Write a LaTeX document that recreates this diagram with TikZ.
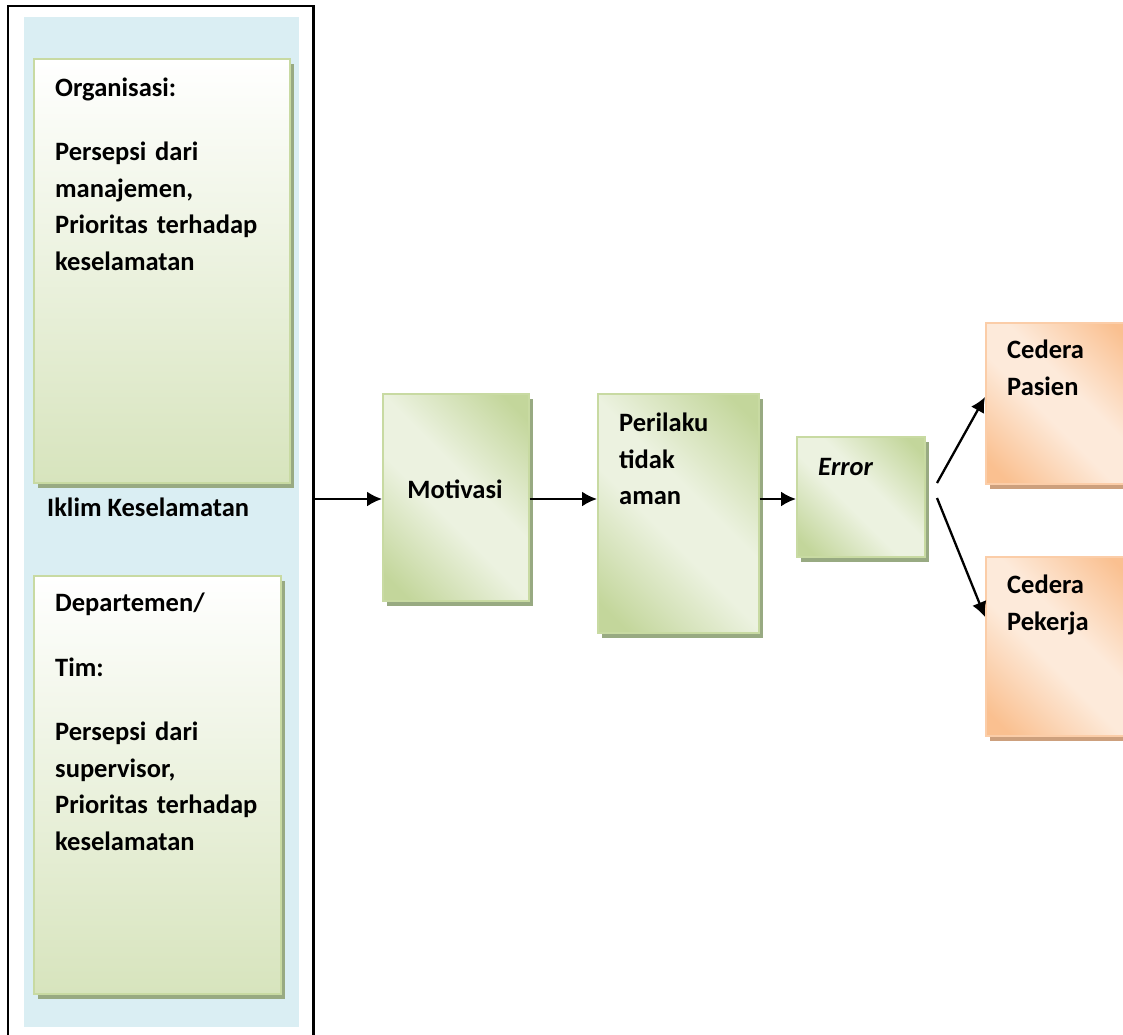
\documentclass[tikz,border=0pt]{standalone}
\usepackage{fontspec}
\setmainfont{Carlito}
\usetikzlibrary{arrows.meta,shadows}

\definecolor{iklimblue}{RGB}{218,238,243}
\definecolor{greendark}{RGB}{195,214,155}
\definecolor{greenlight}{RGB}{236,242,224}
\definecolor{greenedge}{RGB}{200,218,162}
\definecolor{greenshadow}{RGB}{152,170,130}
\definecolor{greenbottom}{RGB}{215,228,189}
\definecolor{orangedark}{RGB}{250,192,144}
\definecolor{orangelight}{RGB}{253,234,218}
\definecolor{orangeedge}{RGB}{251,205,168}
\definecolor{orangeshadow}{RGB}{205,160,125}

\pgfdeclarehorizontalshading{greendiag}{100bp}{color(0bp)=(greendark); color(20bp)=(greendark); color(44bp)=(greenlight); color(56bp)=(greenlight); color(80bp)=(greendark); color(100bp)=(greendark)}
\pgfdeclarehorizontalshading{orangediag}{100bp}{color(0bp)=(orangedark); color(20bp)=(orangedark); color(44bp)=(orangelight); color(56bp)=(orangelight); color(80bp)=(orangedark); color(100bp)=(orangedark)}

\begin{document}
\begin{tikzpicture}[x=1pt,y=-1pt,
    box/.style={rectangle,anchor=north west,inner sep=0pt,line width=1.5pt},
    greenbox/.style={box,draw=greenedge,shading=greendiag,shading angle=45,
      drop shadow={shadow xshift=4pt,shadow yshift=-5pt,fill=greenshadow,opacity=1}},
    panelbox/.style={box,draw=greenedge,top color=white,bottom color=greenbottom,
      drop shadow={shadow xshift=4pt,shadow yshift=-5pt,fill=greenshadow,opacity=1}},
    orangebox/.style={box,draw=orangeedge,shading=orangediag,shading angle=45,
      drop shadow={shadow xshift=4pt,shadow yshift=-5pt,fill=orangeshadow,opacity=1}},
    txt/.style={font=\fontsize{26.5}{36.5}\selectfont\bfseries,inner sep=0pt,anchor=base west,align=left},
    para/.style={text width=230pt},
    flow/.style={-{Latex[length=15pt,width=15pt]},line width=2.3pt}]
    \useasboundingbox (0,0) rectangle (1123,1034);
    \clip (0,0) rectangle (1123,1034);
    %% Iklim keselamatan panel
    \fill[iklimblue] (24,17) rectangle (299,1027);
    \draw[line width=2.2pt] (8,1050) |- (313.5,6) -- (313.5,1050);
    \coordinate (frameR) at (313.5,499);
    \node[panelbox,minimum width=256pt,minimum height=424pt] (org) at (33,58) {};
    \node[panelbox,minimum width=247pt,minimum height=418pt] (dept) at (33,575) {};
    \node[txt,para] (orgtxt) at (55,96.5) {Organisasi:\\[27.5pt]Persepsi dari\\manajemen,\\Prioritas terhadap\\keselamatan};
    \node[txt] (iklim) at (47,516.5) {Iklim Keselamatan};
    \node[txt,para] (depttxt) at (55,611.5) {Departemen/\\[28.5pt]Tim:\\[27.5pt]Persepsi dari\\supervisor,\\Prioritas terhadap\\keselamatan};
    %% Chain
    \node[greenbox,minimum width=146pt,minimum height=207pt] (motivasi) at (382,393) {};
    \node[greenbox,minimum width=161pt,minimum height=239pt] (perilaku) at (597,393) {};
    \node[greenbox,minimum width=128pt,minimum height=120pt] (error) at (796,436) {};
    \node[txt,anchor=base] (motivasitxt) at (455,498.5) {Motivasi};
    \node[txt,para] (perilakutxt) at (619,431.5) {Perilaku\\tidak\\aman};
    \node[txt] (errortxt) at (818,475.5) {\itshape Error};
    %% Outcomes
    \node[orangebox,minimum width=150pt,minimum height=161pt] (pasien) at (985,322) {};
    \node[orangebox,minimum width=150pt,minimum height=179pt] (pekerja) at (985,556) {};
    \node[txt,para] (pasientxt) at (1007,358.5) {Cedera\\Pasien};
    \node[txt,para] (pekerjatxt) at (1007,593.5) {Cedera\\Pekerja};
    %% Arrows
    \coordinate (forkA) at (937,483);
    \coordinate (forkB) at (937,498);
    \draw[flow] (frameR) -- (motivasi.west |- frameR);
    \draw[flow] (motivasi.east |- frameR) -- (perilaku.west |- frameR);
    \draw[flow] (perilaku.east |- frameR) -- (error.west |- frameR);
    \draw[flow] (forkA) -- ([yshift=-75pt]pasien.north west);
    \draw[flow] (forkB) -- ([yshift=-61pt]pekerja.north west);
\end{tikzpicture}
\end{document}
